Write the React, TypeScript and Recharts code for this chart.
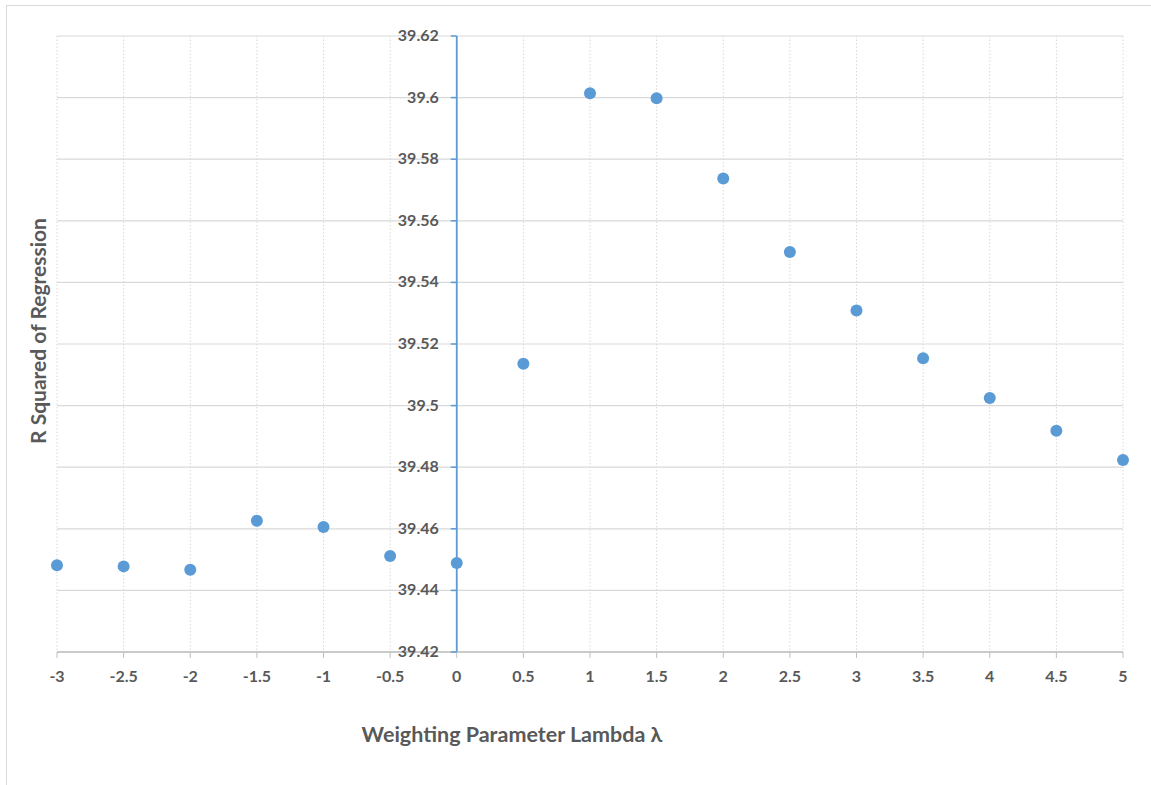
import React from "react";
import {
  CartesianGrid,
  ReferenceLine,
  Scatter,
  ScatterChart,
  XAxis,
  YAxis,
} from "recharts";

const lambdas = [-3, -2.5, -2, -1.5, -1, -0.5, 0, 0.5, 1, 1.5, 2, 2.5, 3, 3.5, 4, 4.5, 5];
const rSquared = [
  39.4482, 39.4478, 39.4467, 39.4626, 39.4606, 39.4512, 39.4489, 39.5136, 39.6014,
  39.5998, 39.5737, 39.5499, 39.5309, 39.5154, 39.5025, 39.4918, 39.4823,
];
const xTicks = [-3, -2.5, -2, -1.5, -1, -0.5, 0, 0.5, 1, 1.5, 2, 2.5, 3, 3.5, 4, 4.5, 5];
const yTicks = [39.42, 39.44, 39.46, 39.48, 39.5, 39.52, 39.54, 39.56, 39.58, 39.6, 39.62];

const data = lambdas.map((x, i) => ({ x, y: rSquared[i] }));

const W = 1151;
const H = 785;
const Y_AXIS_W = 10;
const margin = { top: 36, right: 28, bottom: 73, left: 57 - Y_AXIS_W };
const X_AXIS_H = 60;
const PLOT_LEFT = 57;
const PLOT_W = W - PLOT_LEFT - margin.right;
// y axis crosses at lambda = 0
const zeroX = PLOT_LEFT + ((0 - xTicks[0]) / (xTicks[xTicks.length - 1] - xTicks[0])) * PLOT_W;

const FONT = "Lato, 'Open Sans', sans-serif";
const TEXT = "#595959";
const GRID = "#d9d9d9";
const BLUE = "#5b9bd5";

function YTick(props: any) {
  const { y, payload } = props;
  return (
    <g>
      <line x1={zeroX - 6} x2={zeroX} y1={y} y2={y} stroke={BLUE} strokeWidth={1.5} />
      <text
        x={zeroX - 18}
        y={y}
        dy={5}
        textAnchor="end"
        fill={TEXT}
        fontFamily={FONT}
        fontWeight="bold"
        fontSize={16}
      >
        {String(payload.value)}
      </text>
    </g>
  );
}

function Dot(props: any) {
  const { cx, cy } = props;
  return <circle cx={cx} cy={cy} r={6} fill={BLUE} />;
}

export default function App() {
  return (
    <div style={{ position: "absolute", left: 0, top: 0, width: W, height: H, overflow: "hidden", background: "#fff" }}>
      <div
        style={{
          position: "absolute",
          left: 6,
          top: 5,
          width: W + 20,
          height: H + 20,
          border: `1.5px solid ${GRID}`,
        }}
      />
      <div style={{ position: "absolute", left: 0, top: 0 }}>
        <ScatterChart width={W} height={H} margin={margin}>
          <CartesianGrid vertical={false} stroke={GRID} strokeWidth={1.2} />
          <CartesianGrid horizontal={false} stroke={GRID} strokeDasharray="1.5 2" />
          <XAxis
            type="number"
            dataKey="x"
            domain={[-3, 5]}
            ticks={xTicks}
            interval={0}
            height={X_AXIS_H}
            axisLine={{ stroke: "#bfbfbf", strokeWidth: 1.5 }}
            tickLine={{ stroke: "#bfbfbf" }}
            tickSize={6}
            tickMargin={13}
            tick={{ fill: TEXT, fontFamily: FONT, fontWeight: "bold", fontSize: 16 }}
            label={{
              content: () => (
                <text
                  x={512}
                  y={742}
                  textAnchor="middle"
                  fill={TEXT}
                  fontFamily={FONT}
                  fontWeight="bold"
                  fontSize={21.5}
                >
                  Weighting Parameter Lambda λ
                </text>
              ),
            }}
          />
          <YAxis
            type="number"
            dataKey="y"
            domain={[39.42, 39.62]}
            ticks={yTicks}
            interval={0}
            width={Y_AXIS_W}
            axisLine={false}
            tickLine={false}
            tick={<YTick />}
            label={{
              content: () => (
                <text
                  x={0}
                  y={0}
                  transform="translate(46,331) rotate(-90)"
                  textAnchor="middle"
                  fill={TEXT}
                  fontFamily={FONT}
                  fontWeight="bold"
                  fontSize={21}
                >
                  R Squared of Regression
                </text>
              ),
            }}
          />
          <ReferenceLine x={0} stroke={BLUE} strokeWidth={1.8} />
          <Scatter data={data} shape={<Dot />} isAnimationActive={false} />
        </ScatterChart>
      </div>
    </div>
  );
}
